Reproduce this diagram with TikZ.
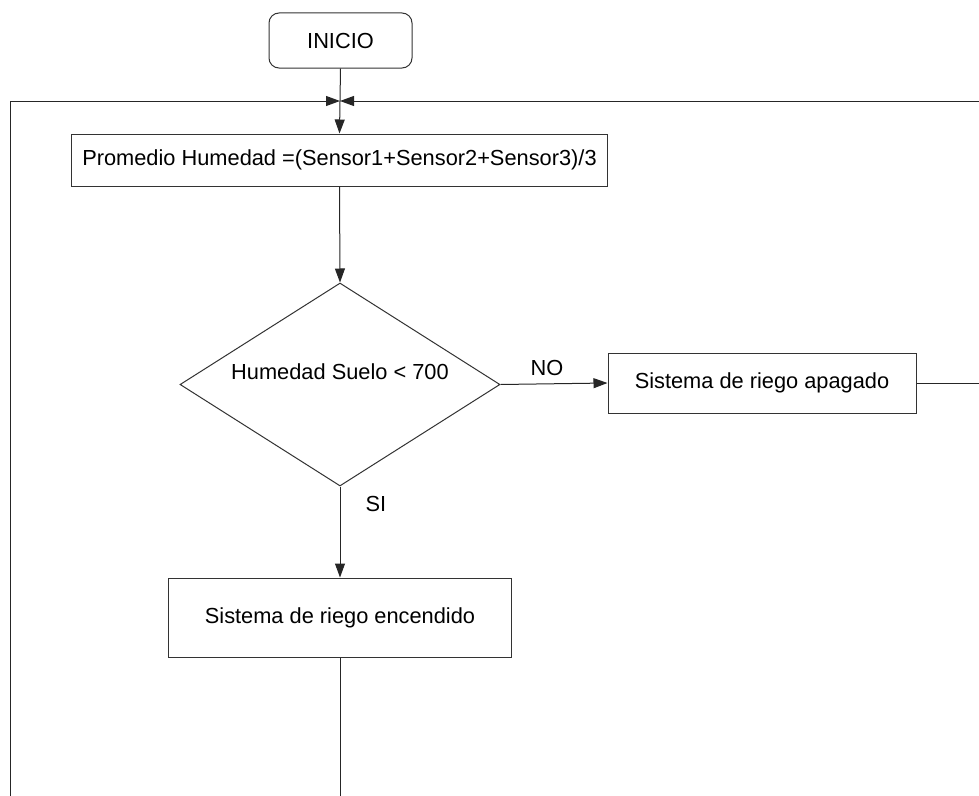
\documentclass[tikz,border=0pt]{standalone}
\usepackage{fontspec}
\setmainfont{Liberation Sans}
\usetikzlibrary{arrows.meta,shapes.geometric}
\begin{document}
\begin{tikzpicture}[x=1bp,y=-1bp,
  line/.style={draw=black!85, line width=1bp},
  arr/.style={line, -{Triangle[length=14bp,width=10bp]}},
  box/.style={draw=black!80, line width=1bp, fill=white, inner sep=0pt},
  lbl/.style={font=\fontsize{21.8bp}{26bp}\selectfont}]
\useasboundingbox (0,0) rectangle (979,796);

% nodes
\node[box, rounded corners=10bp, minimum width=143bp, minimum height=55bp, lbl] (inicio) at (340.5,40.5) {INICIO};
\node[box, minimum width=535bp, minimum height=52bp, lbl] (prom) at (339.5,160) {Promedio Humedad =(Sensor1+Sensor2+Sensor3)/3};
\node[box, diamond, minimum width=320bp, minimum height=203bp] (dec) at (340,384.5) {};
\node[lbl] (dectxt) at (340,372) {Humedad Suelo < 700};
\node[box, minimum width=308bp, minimum height=60bp, lbl] (apag) at (762,383) {Sistema de riego apagado};
\node[box, minimum width=342bp, minimum height=79bp, lbl] (enc) at (340,617.5) {Sistema de riego encendido};
\node[lbl] (no) at (547,368) {NO};
\node[lbl] (si) at (376,504) {SI};

% loop-back route points
\coordinate (join) at (340,101);
\coordinate (lefttop) at (10,101);
\coordinate (bottomedge) at (340,815);
\coordinate (rightedge) at (995,383);
\coordinate (righttop) at (995,101);

% connectors
\draw[line] (inicio.south) -- (join);
\draw[arr] (join) -- (prom.north);
\draw[arr] (prom.south) -- (dec.north);
\draw[arr] (dec.east) -- (apag.west);
\draw[arr] (dec.south) -- (enc.north);
\draw[arr] (enc.south) -- (bottomedge) -| (lefttop) -- (join);
\draw[arr] (apag.east) -- (rightedge) -- (righttop) -- (join);
\end{tikzpicture}
\end{document}
